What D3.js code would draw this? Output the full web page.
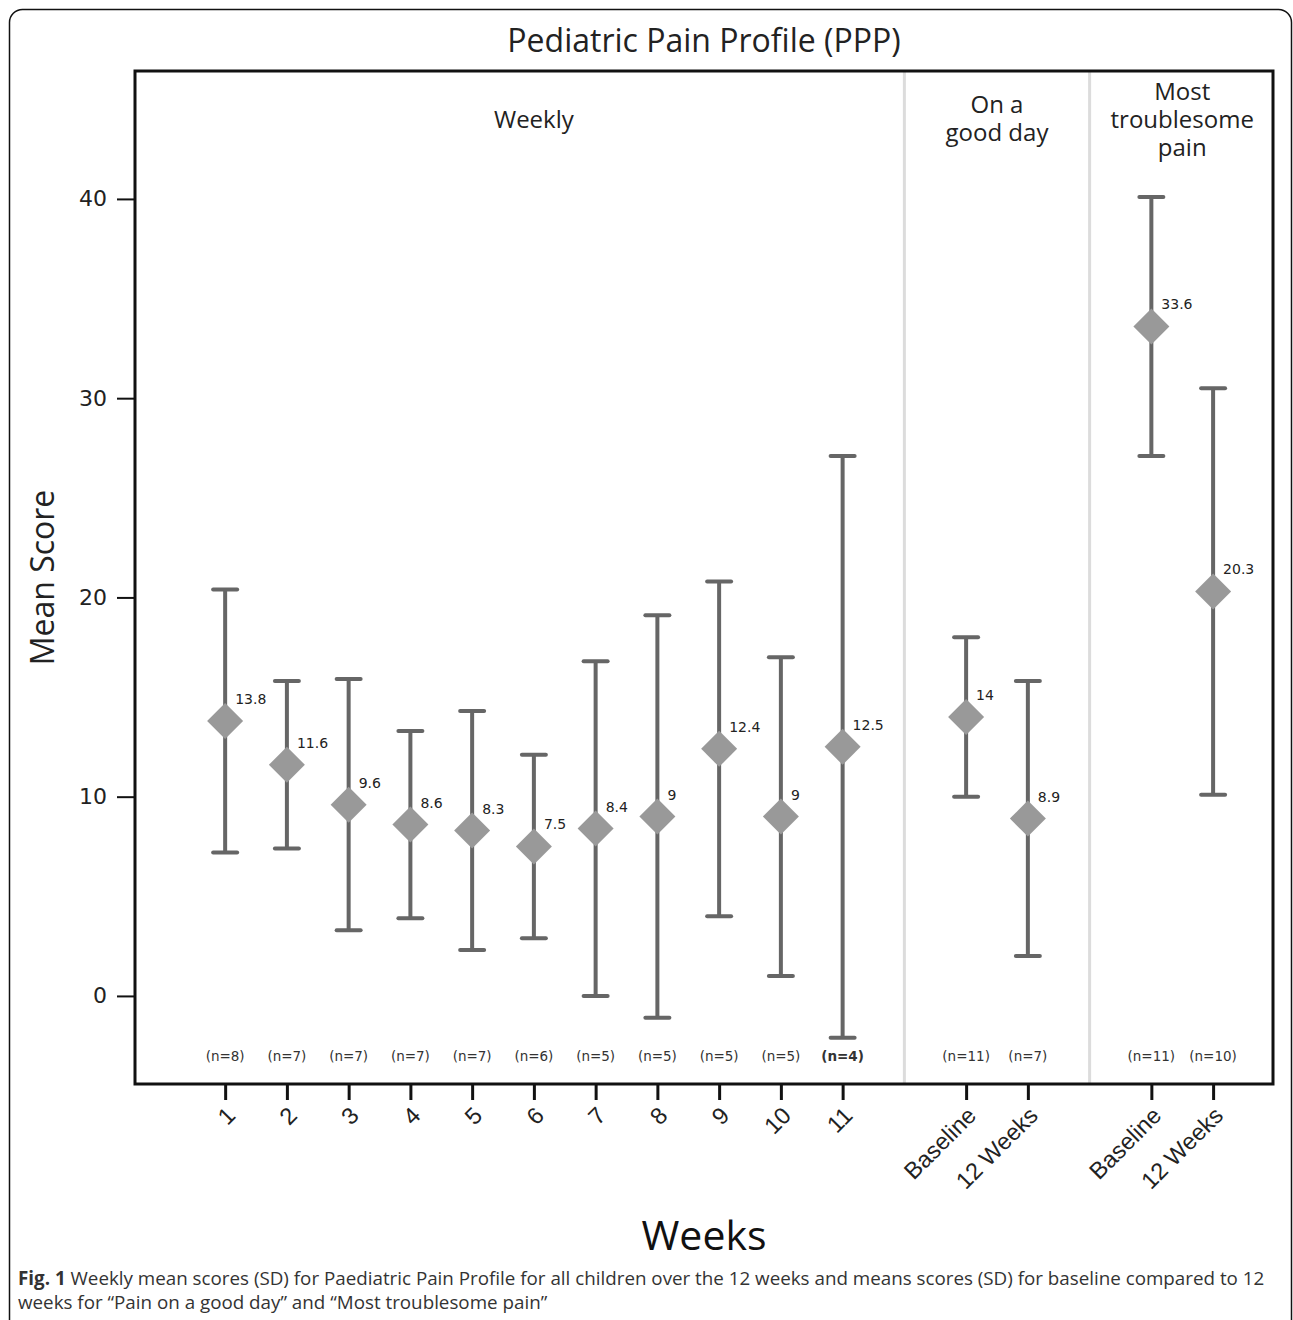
<!DOCTYPE html>
<html>
<head>
<meta charset="utf-8">
<script src="https://cdn.jsdelivr.net/npm/d3@7"></script>
<style>
  body { margin: 0; background: #fff; }
  svg { display: block; font-family: 'Open Sans', 'Noto Sans', sans-serif; }
</style>
</head>
<body>
<svg id="chart" width="1293" height="1320"></svg>
<script>
// groups of the chart, in order
var groups = ['Weekly', 'On a good day', 'Most troublesome pain']
var groupTitles = [['Weekly'], ['On a', 'good day'], ['Most', 'troublesome', 'pain']]

// one entry per error bar
var labels = ['1', '2', '3', '4', '5', '6', '7', '8', '9', '10', '11', 'Baseline', '12 Weeks', 'Baseline', '12 Weeks']
var groupOf = [0, 0, 0, 0, 0, 0, 0, 0, 0, 0, 0, 1, 1, 2, 2]
var means = [13.8, 11.6, 9.6, 8.6, 8.3, 7.5, 8.4, 9, 12.4, 9, 12.5, 14, 8.9, 33.6, 20.3]
var sds = [6.6, 4.2, 6.3, 4.7, 6.0, 4.6, 8.4, 10.1, 8.4, 8.0, 14.6, 4.0, 6.9, 6.5, 10.2]
var ns = [8, 7, 7, 7, 7, 6, 5, 5, 5, 5, 4, 11, 7, 11, 10]
var yTicks = [0, 10, 20, 30, 40]

// slot index along x: groups follow each other with one empty slot between them
var slots = []
var s = 0
groupOf.forEach(function (g, i) {
  if (i > 0 && g !== groupOf[i - 1]) s += 1
  slots.push(s)
  s += 1
})
var data = labels.map(function (l, i) {
  return { label: l, group: groupOf[i], mean: means[i], sd: sds[i], n: ns[i], slot: slots[i] }
})

var svg = d3.select('#chart')
var margin = { top: 71, right: 20, bottom: 236, left: 135 }
var width = 1273 - margin.left
var height = 1084 - margin.top
var smallFont = "'DejaVu Sans', sans-serif"

// outer figure border
svg.append('rect')
  .attr('x', 9.5).attr('y', 9.5)
  .attr('width', 1282).attr('height', 1340)
  .attr('rx', 13)
  .attr('fill', 'none')
  .attr('stroke', '#111')
  .attr('stroke-width', 1.5)

var g = svg.append('g')
  .attr('transform', 'translate(' + margin.left + ',' + margin.top + ')')

// x: linear scale on slot index
var x = d3.scaleLinear().domain([-1.46, 16.97]).range([0, width])
var y = d3.scaleLinear().domain([-4.42, 46.42]).range([height, 0])

// group separators
var seps = []
data.forEach(function (d, i) {
  if (i > 0 && d.group !== data[i - 1].group) seps.push(d.slot - 1)
})
g.selectAll('.sep')
  .data(seps)
  .enter().append('line')
  .attr('class', 'sep')
  .attr('x1', (d) => x(d)).attr('x2', (d) => x(d))
  .attr('y1', 0).attr('y2', height)
  .attr('stroke', '#dcdcdc')
  .attr('stroke-width', 3)

// group titles, one text per line
groupTitles.forEach(function (lines, gi) {
  var members = data.filter((d) => d.group === gi)
  var cx = x(d3.mean(members, (d) => d.slot))
  var n = lines.length
  var top = n === 1 ? 57 : (n === 2 ? 42 : 29)
  lines.forEach(function (line, li) {
    g.append('text')
      .attr('x', cx)
      .attr('y', top + li * 28)
      .attr('text-anchor', 'middle')
      .attr('font-size', 24)
      .attr('fill', '#222')
      .text(line)
  })
})

// error bars
var color = '#666'
var capW = 12
var bars = g.selectAll('.bar')
  .data(data)
  .enter().append('g')
  .attr('class', 'bar')
bars.append('line')
  .attr('x1', (d) => x(d.slot)).attr('x2', (d) => x(d.slot))
  .attr('y1', (d) => y(d.mean + d.sd)).attr('y2', (d) => y(d.mean - d.sd))
  .attr('stroke', color).attr('stroke-width', 4)
bars.append('line')
  .attr('x1', (d) => x(d.slot) - capW).attr('x2', (d) => x(d.slot) + capW)
  .attr('y1', (d) => y(d.mean + d.sd)).attr('y2', (d) => y(d.mean + d.sd))
  .attr('stroke', color).attr('stroke-width', 4).attr('stroke-linecap', 'round')
bars.append('line')
  .attr('x1', (d) => x(d.slot) - capW).attr('x2', (d) => x(d.slot) + capW)
  .attr('y1', (d) => y(d.mean - d.sd)).attr('y2', (d) => y(d.mean - d.sd))
  .attr('stroke', color).attr('stroke-width', 4).attr('stroke-linecap', 'round')

// diamond markers
bars.append('path')
  .attr('d', function (d) {
    var cx = x(d.slot), cy = y(d.mean), r = 18
    return 'M' + cx + ',' + (cy - r) + 'L' + (cx + r) + ',' + cy + 'L' + cx + ',' + (cy + r) + 'L' + (cx - r) + ',' + cy + 'Z'
  })
  .attr('fill', '#999')

// mean labels
bars.append('text')
  .attr('x', (d) => x(d.slot) + 10)
  .attr('y', (d) => y(d.mean) - 17)
  .attr('font-size', 14)
  .attr('font-family', smallFont)
  .attr('fill', '#222')
  .text((d) => d.mean)

// n labels
bars.append('text')
  .attr('x', (d) => x(d.slot))
  .attr('y', y(-3.0) + 5)
  .attr('text-anchor', 'middle')
  .attr('font-size', 13.5)
  .attr('font-family', smallFont)
  .attr('font-weight', (d, i) => i === 10 ? 'bold' : 'normal')
  .attr('fill', '#333')
  .text((d) => '(n=' + d.n + ')')

// y axis
var yAxis = g.append('g')
  .call(d3.axisLeft(y).tickValues(yTicks).tickSize(18).tickPadding(10).tickFormat(d3.format('d')))
yAxis.select('.domain').remove()
yAxis.selectAll('.tick line').attr('stroke', '#111').attr('stroke-width', 2)
yAxis.selectAll('.tick text')
  .attr('font-size', 22)
  .attr('fill', '#222')
  .attr('font-family', smallFont)

// x axis
var xAxis = g.append('g')
  .attr('transform', 'translate(0,' + height + ')')
  .call(d3.axisBottom(x).tickValues(data.map((d) => d.slot)).tickSize(16).tickFormat((v) => data.find((d) => d.slot === v).label))
xAxis.select('.domain').remove()
xAxis.selectAll('.tick line').attr('stroke', '#111').attr('stroke-width', 3)
xAxis.selectAll('.tick text')
  .attr('font-size', 23.5)
  .attr('fill', '#222')
  .attr('text-anchor', 'end')
  .attr('x', 0).attr('y', 0).attr('dy', 0)
  .attr('transform', 'translate(11,33) rotate(-45)')

// plot frame
g.append('rect')
  .attr('x', 0).attr('y', 0)
  .attr('width', width).attr('height', height)
  .attr('fill', 'none')
  .attr('stroke', '#111')
  .attr('stroke-width', 3)

// titles
svg.append('text')
  .attr('x', margin.left + width / 2)
  .attr('y', 52)
  .attr('text-anchor', 'middle')
  .attr('font-size', 32)
  .attr('fill', '#222')
  .text('Pediatric Pain Profile (PPP)')

svg.append('text')
  .attr('transform', 'translate(54,' + (margin.top + height / 2) + ') rotate(-90)')
  .attr('text-anchor', 'middle')
  .attr('font-size', 32)
  .attr('fill', '#222')
  .text('Mean Score')

svg.append('text')
  .attr('x', margin.left + width / 2)
  .attr('y', 1250)
  .attr('text-anchor', 'middle')
  .attr('font-size', 41)
  .attr('fill', '#111')
  .text('Weeks')

// caption
var cap = svg.append('text')
  .attr('x', 18)
  .attr('y', 1285)
  .attr('font-size', 18.8)
  .attr('fill', '#333')
var l1 = cap.append('tspan').attr('x', 18)
l1.append('tspan').attr('font-weight', 'bold').text('Fig. 1')
l1.append('tspan').text(' Weekly mean scores (SD) for Paediatric Pain Profile for all children over the 12 weeks and means scores (SD) for baseline compared to 12')
cap.append('tspan').attr('x', 18).attr('dy', 24)
  .text('weeks for \u201cPain on a good day\u201d and \u201cMost troublesome pain\u201d')
</script>
</body>
</html>
